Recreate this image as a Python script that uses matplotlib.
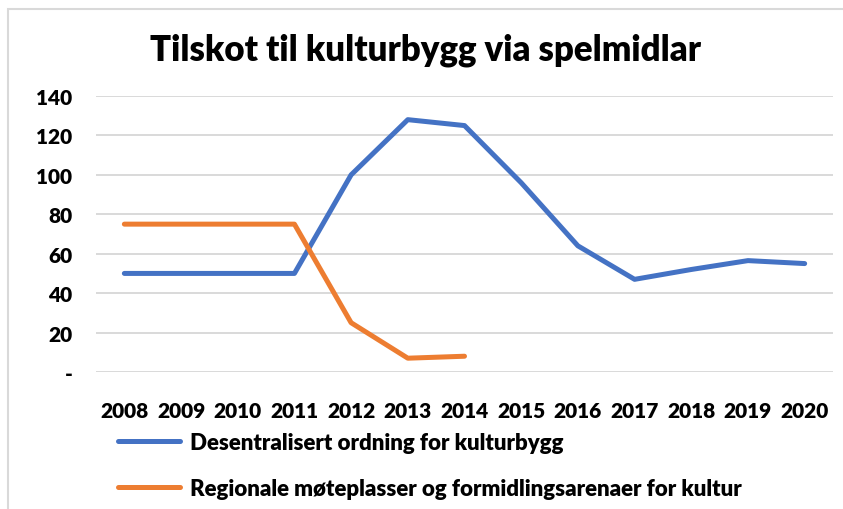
import numpy as np
import matplotlib
matplotlib.use("Agg")
import matplotlib.pyplot as plt
from matplotlib.patches import Rectangle

plt.rcParams['font.family'] = ['Lato', 'DejaVu Sans']

years = [2008, 2009, 2010, 2011, 2012, 2013, 2014, 2015, 2016, 2017, 2018, 2019, 2020]
desentralisert = [50, 50, 50, 50, 100, 128, 125, 96, 64, 47, 52, 56.5, 55]
regionale = [75, 75, 75, 75, 25, 7, 8]  # only 2008-2014

label_desentralisert = "Desentralisert ordning for kulturbygg"
label_regionale = "Regionale møteplasser og formidlingsarenaer for kultur"
title = "Tilskot til kulturbygg via spelmidlar"

yticks = [0, 20, 40, 60, 80, 100, 120, 140]
ytick_labels = ['-' if v == 0 else str(v) for v in yticks]

blue = '#4472C4'
orange = '#ED7D31'
grid_col = '#D9D9D9'
wt = 'heavy'

fig = plt.figure(figsize=(8.43, 5.10), dpi=100)
ax = fig.add_axes([96/843, 1-373/510, (833-96)/843, (373-97)/510])

x = np.arange(len(years))
ax.plot(x, desentralisert, color=blue, lw=3.6, solid_capstyle='round',
        solid_joinstyle='round', label=label_desentralisert, zorder=3)
ax.plot(x[:len(regionale)], regionale, color=orange, lw=3.6, solid_capstyle='round',
        solid_joinstyle='round', label=label_regionale, zorder=3)

ax.set_xlim(-0.5, len(years) - 0.5)
ax.set_ylim(0, 140)
ax.set_yticks(yticks)
ax.set_yticklabels(ytick_labels)
ax.set_xticks(x)
ax.set_xticklabels([str(y) for y in years])
ax.tick_params(axis='both', length=0, labelsize=15, colors='black')
ax.tick_params(axis='y', pad=17)
ax.tick_params(axis='x', pad=21)
for lab in ax.get_xticklabels() + ax.get_yticklabels():
    lab.set_fontweight(wt)

ax.grid(axis='y', color=grid_col, lw=1.4)
ax.set_axisbelow(True)
for sp in ax.spines.values():
    sp.set_visible(False)

fig.text(0.505, 1-50/510, title, ha='center', va='center', fontsize=25, fontweight=wt)

leg = ax.legend(loc='upper left', bbox_to_anchor=(118/843, 1-433/510),
                bbox_transform=fig.transFigure, frameon=False, fontsize=16,
                handlelength=2.8, handletextpad=0.45, labelspacing=1.12,
                borderpad=0, borderaxespad=0)
for t in leg.get_texts():
    t.set_fontweight(wt)

# chart frame (only top and left edges are visible in the crop)
fig.patches.append(Rectangle((8/843, -0.2), 1.2, 1.2 - 10/510, transform=fig.transFigure,
                             fill=False, edgecolor=grid_col, lw=1.5))

fig.savefig('out.png', dpi=100)
